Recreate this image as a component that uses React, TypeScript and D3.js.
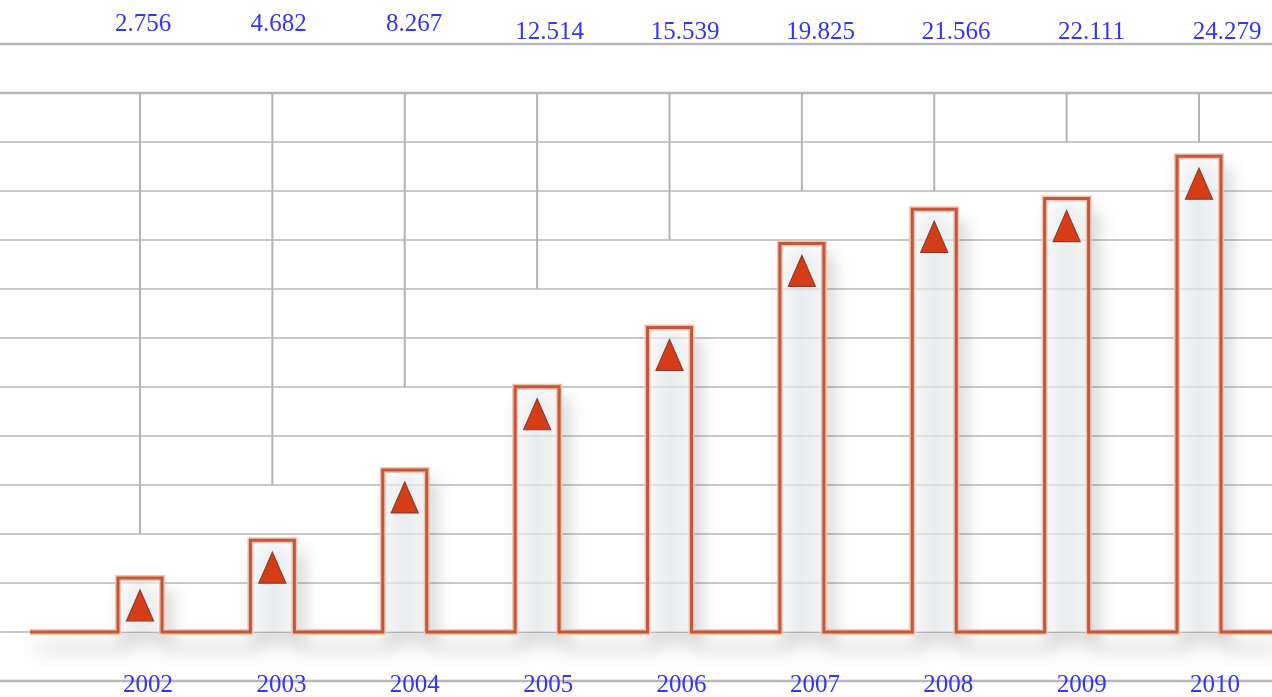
import { useRef, useEffect } from 'react';
import * as d3 from 'd3';

const YEARS = ['2002', '2003', '2004', '2005', '2006', '2007', '2008', '2009', '2010'];
const VALUES = [2.756, 4.682, 8.267, 12.514, 15.539, 19.825, 21.566, 22.111, 24.279];
const VALUE_LABELS = ['2.756', '4.682', '8.267', '12.514', '15.539', '19.825', '21.566', '22.111', '24.279'];
// where each grey leader line from the top grid stops (in value units)
const LEADER_ENDS = [5, 7.5, 12.5, 17.5, 20, 22.5, 22.5, 25, 25];
const GRID_STEP = 2.5;

const WIDTH = 1272;
const HEIGHT = 697;
const BLUE = '#3535f5';

export default function App() {
  const svgRef = useRef<SVGSVGElement>(null);

  useEffect(() => {
    if (!svgRef.current) return;
    const svg = d3.select(svgRef.current);
    svg.selectAll('*').remove();

    const y = d3.scaleLinear().domain([0, 27.5]).range([632, 93]);
    const x = d3.scalePoint<string>().domain(YEARS).range([140, 1199]);
    const xYear = d3.scalePoint<string>().domain(YEARS).range([148, 1215]);
    const xVal = d3.scalePoint<string>().domain(YEARS).range([143, 1227]);
    const barW = 44;

    const defs = svg.append('defs');
    const shadow = defs.append('filter').attr('id', 'shadow')
      .attr('x', '-20%').attr('y', '-20%').attr('width', '140%').attr('height', '160%');
    shadow.append('feDropShadow')
      .attr('dx', 7).attr('dy', 16).attr('stdDeviation', 8)
      .attr('flood-color', '#6d6d6d').attr('flood-opacity', 0.35);

    const grad = defs.append('linearGradient').attr('id', 'barFill')
      .attr('x1', '0%').attr('x2', '100%').attr('y1', '0%').attr('y2', '0%');
    grad.append('stop').attr('offset', '0%').attr('stop-color', '#fdfdfd');
    grad.append('stop').attr('offset', '50%').attr('stop-color', '#eaeff3');
    grad.append('stop').attr('offset', '100%').attr('stop-color', '#fafafa');

    // Horizontal grid
    const gridVals = d3.range(-GRID_STEP, 30 + 0.01, GRID_STEP);
    svg.append('g')
      .selectAll('line')
      .data(gridVals)
      .join('line')
      .attr('x1', 0)
      .attr('x2', WIDTH)
      .attr('y1', (d) => y(d))
      .attr('y2', (d) => y(d))
      .attr('stroke', '#b7b7b7')
      .attr('stroke-width', (d) => (d >= 27.5 || d < 0 ? 2.5 : 1.6));

    // Leader lines
    svg.append('g')
      .selectAll('line')
      .data(YEARS)
      .join('line')
      .attr('x1', (d) => x(d)!)
      .attr('x2', (d) => x(d)!)
      .attr('y1', y(27.5))
      .attr('y2', (_, i) => y(LEADER_ENDS[i]))
      .attr('stroke', '#b3b3b3')
      .attr('stroke-width', 2);

    // Bars: fills + stepped outline
    const bars = svg.append('g').attr('filter', 'url(#shadow)');
    bars.selectAll('rect')
      .data(YEARS)
      .join('rect')
      .attr('x', (d) => x(d)! - barW / 2)
      .attr('y', (_, i) => y(VALUES[i]))
      .attr('width', barW)
      .attr('height', (_, i) => y(0) - y(VALUES[i]))
      .attr('fill', 'url(#barFill)')
      .attr('opacity', 0.6);

    const p = d3.path();
    p.moveTo(30, y(0));
    YEARS.forEach((yr, i) => {
      const cx = x(yr)!;
      p.lineTo(cx - barW / 2, y(0));
      p.lineTo(cx - barW / 2, y(VALUES[i]));
      p.lineTo(cx + barW / 2, y(VALUES[i]));
      p.lineTo(cx + barW / 2, y(0));
    });
    p.lineTo(WIDTH, y(0));

    bars.append('path')
      .attr('d', p.toString())
      .attr('fill', 'none')
      .attr('stroke', '#f2c4ad')
      .attr('stroke-width', 6);
    svg.append('path')
      .attr('d', p.toString())
      .attr('fill', 'none')
      .attr('stroke', '#c0573f')
      .attr('stroke-width', 3);

    // Triangles
    svg.append('g')
      .selectAll('path')
      .data(YEARS)
      .join('path')
      .attr('d', (d, i) => {
        const cx = x(d)!;
        const top = y(VALUES[i]) + 12;
        const t = d3.path();
        t.moveTo(cx, top);
        t.lineTo(cx + 13.5, top + 31);
        t.lineTo(cx - 13.5, top + 31);
        t.closePath();
        return t.toString();
      })
      .attr('fill', '#d63d17')
      .attr('stroke', '#8e3b2b')
      .attr('stroke-width', 1.2);

    // Value labels on top
    svg.append('g')
      .selectAll('text')
      .data(YEARS)
      .join('text')
      .attr('x', (d) => xVal(d)!)
      .attr('y', (_, i) => (VALUES[i] < 10 ? 31 : 39))
      .attr('text-anchor', 'middle')
      .attr('font-family', '"Liberation Serif", "Times New Roman", serif')
      .attr('font-size', 25)
      .attr('fill', BLUE)
      .text((_, i) => VALUE_LABELS[i]);

    // Year labels
    svg.append('g')
      .selectAll('text')
      .data(YEARS)
      .join('text')
      .attr('x', (d) => xYear(d)!)
      .attr('y', 692)
      .attr('text-anchor', 'middle')
      .attr('font-family', '"Liberation Serif", "Times New Roman", serif')
      .attr('font-size', 25)
      .attr('fill', BLUE)
      .text((d) => d);
  }, []);

  return (
    <svg
      ref={svgRef}
      width={WIDTH}
      height={HEIGHT}
      style={{ position: 'absolute', left: 0, top: 0, background: '#fff' }}
    />
  );
}
